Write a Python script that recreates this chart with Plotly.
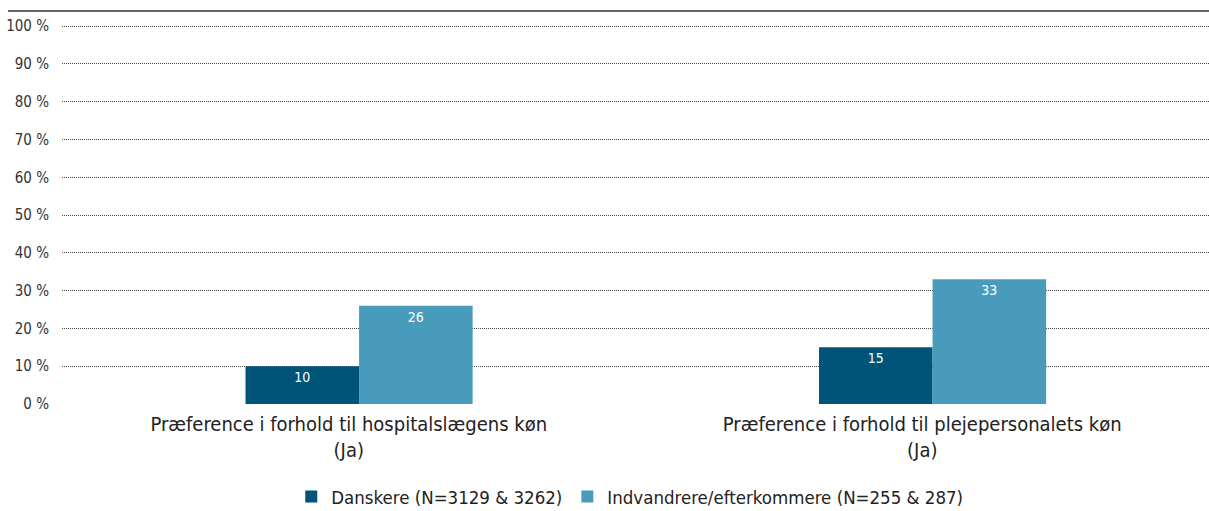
import plotly.graph_objects as go

categories = ["Præference i forhold til hospitalslægens køn<br>(Ja)",
              "Præference i forhold til plejepersonalets køn<br>(Ja)"]
series_names = ["Danskere (N=3129 & 3262)", "Indvandrere/efterkommere (N=255 & 287)"]
danskere = [10, 15]
indvandrere = [26, 33]
y_ticks = [0, 10, 20, 30, 40, 50, 60, 70, 80, 90, 100]
y_ticktext = [f"{v} %" for v in y_ticks]

FONT = "DejaVu Sans Condensed, Liberation Sans Narrow, sans-serif"
DARK = "#005478"
LIGHT = "#489BBA"

fig = go.Figure()
fig.add_trace(go.Bar(
    x=categories, y=danskere, name=series_names[0],
    marker=dict(color=DARK, line=dict(width=0)),
    width=0.198, offset=-0.18,
    text=[str(v) for v in danskere], textposition="inside",
    insidetextanchor="end", textangle=0,
    textfont=dict(color="white", size=14, family=FONT),
))
fig.add_trace(go.Bar(
    x=categories, y=indvandrere, name=series_names[1],
    marker=dict(color=LIGHT, line=dict(width=0)),
    width=0.198, offset=0.018,
    text=[str(v) for v in indvandrere], textposition="inside",
    insidetextanchor="end", textangle=0,
    textfont=dict(color="white", size=14, family=FONT),
))

fig.update_layout(
    width=1209, height=511,
    margin=dict(l=62, r=0, t=25, b=107, autoexpand=False),
    paper_bgcolor="white", plot_bgcolor="white",
    font=dict(family=FONT, color="#333333", size=14),
    barmode="overlay",
    showlegend=True,
    legend=dict(orientation="h", x=0.495, xanchor="center", y=-0.245, yanchor="middle",
                font=dict(size=18.5, color="#222222"), traceorder="normal",
                itemwidth=30),
    xaxis=dict(type="category", range=[-0.5, 1.5], showgrid=False, showline=False,
               automargin=False, ticklabelstandoff=6,
               ticks="", tickfont=dict(size=20, color="#222222"), zeroline=False),
    yaxis=dict(range=[0, 100.3], tickvals=y_ticks, ticktext=y_ticktext,
               automargin=False,
               showgrid=True, gridcolor="#444444", griddash="1px,1px", gridwidth=1,
               zeroline=False, showline=False, ticks="", ticklabelstandoff=12,
               tickfont=dict(size=15, color="#333333")),
    shapes=[dict(type="line", xref="paper", yref="paper",
                 x0=(8 - 62) / 1147, x1=1.0, y0=(404 - 11) / 379, y1=(404 - 11) / 379,
                 line=dict(color="#666666", width=2))],
)

fig.write_html("out.html", config={"displayModeBar": False},
               post_script="document.body.style.margin='0';")
